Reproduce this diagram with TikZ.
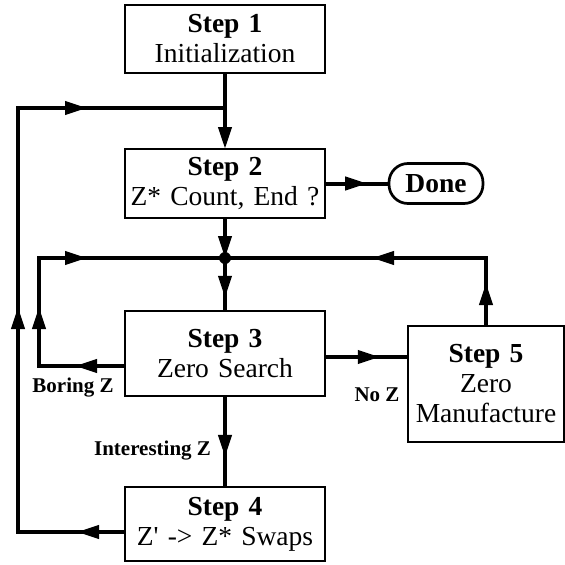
\documentclass[tikz,border=0pt]{standalone}
\usepackage{fontspec}
\setmainfont{Liberation Serif}
\usepackage{tikz}
\usetikzlibrary{arrows.meta, positioning, calc, decorations.markings}

\newcommand{\ztip}{\arrow{Triangle[length=22pt,width=13pt]}}

\begin{document}
\begin{tikzpicture}[x=1pt, y=-1pt,
    box/.style={rectangle, draw, line width=2.7pt, inner sep=3pt, outer sep=0pt, text width=194pt, minimum width=200pt, align=center, font=\fontsize{27.5}{30}\selectfont},
    conn/.style={line width=4pt},
    arrow/.style={conn, -{Triangle[length=22pt,width=13pt]}},
    midarrow/.style={conn, postaction={decorate}, decoration={markings, mark=at position #1 with {\ztip}}},
    lbl/.style={font=\fontsize{21}{24}\selectfont\bfseries, inner sep=1pt}]

    \useasboundingbox (0,0) rectangle (565,565);

    % Main column of steps
    \node[box, minimum height=68pt] (step1) at (225,39) {\textbf{Step 1}\\Initialization};
    \node[box, minimum height=69pt, below=76pt of step1] (step2) {\textbf{Step 2}\\Z* Count, End ?};
    \node[box, minimum height=85pt, below=93pt of step2] (step3) {\textbf{Step 3}\\Zero Search};
    \node[box, minimum height=74pt, below=91pt of step3] (step4) {\textbf{Step 4}\\Z\textquotesingle{} -> Z* Swaps};

    % Side boxes
    \node[box, text width=88pt, minimum width=94pt, minimum height=40pt, rounded corners=19pt, right=64pt of step2] (done) {\textbf{Done}};
    \node[box, text width=150pt, minimum width=154pt, minimum height=116pt] (step5) at (486,384) {\textbf{Step 5}\\Zero\\Manufacture};

    % Junction points
    \coordinate (fb) at ($(step1.south)+(0,35)$);
    \coordinate (jn) at ($(step2.south)+(0,40)$);
    \coordinate (ol) at ($(fb)+(-207,0)$);
    \coordinate (bl) at ($(jn)+(-186,0)$);
    \coordinate (bz) at ($(step3.west)+(0,12.5)$);
    \coordinate (nz) at ($(step3.east)+(0,3.5)$);
    \coordinate (s4) at ($(step4.west)+(0,8)$);

    % Main flow
    \draw[arrow] (step1) -- (step2);
    \draw[arrow] (step2) -- (jn);
    \fill (jn) circle (6pt);
    \draw[midarrow=0.75] (jn) -- (step3);
    \draw[midarrow=0.67] (step3) -- node[lbl, pos=0.6, left=11pt] (intz) {Interesting Z} (step4);
    \draw[midarrow=0.66] (step2) -- (done);
    \draw[midarrow=0.66] (nz) -- (nz -| step5.west);

    % Loops back to the top
    \draw[conn, postaction={decorate}, decoration={markings,
        mark=at position 48pt with {\ztip}, mark=at position 332pt with {\ztip}, mark=at position 600pt with {\ztip}}]
        (s4) -| (ol) -- (fb);
    \draw[conn, postaction={decorate}, decoration={markings,
        mark=at position 50pt with {\ztip}, mark=at position 145pt with {\ztip}, mark=at position 242pt with {\ztip}}]
        (bz) -| (bl) -- (jn);
    \draw[conn, postaction={decorate}, decoration={markings,
        mark=at position 43pt with {\ztip}, mark=at position 182pt with {\ztip}}]
        (step5.north) -- (step5.north |- jn) -- (jn);

    % Branch labels
    \node[lbl] (boring) at ($(bz)+(-52,22)$) {Boring Z};
    \node[lbl] (noz) at ($(step5.west)+(-31,11)$) {No Z};

\end{tikzpicture}
\end{document}
